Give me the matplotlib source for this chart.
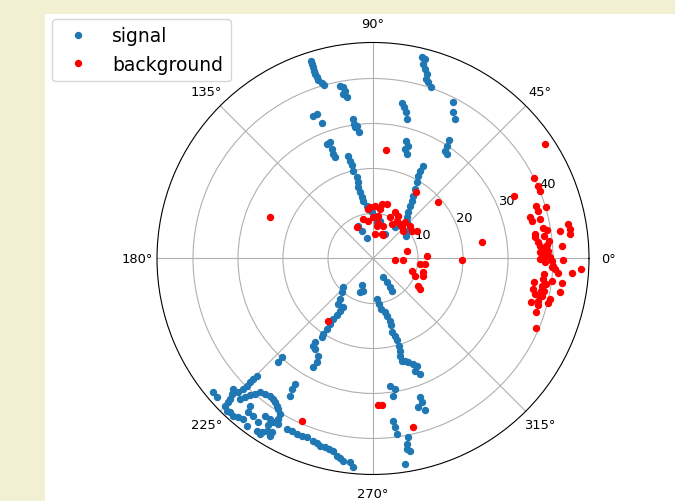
import numpy as np
import matplotlib
matplotlib.use('Agg')
import matplotlib.pyplot as plt
from matplotlib.patches import Rectangle

# signal hits (angle in degrees, radius)
sig_theta = [107.5, 107.5, 107.5, 107.4, 107.4, 107.3, 107.0, 106.3, 105.7,
             100.8, 99.8, 99.5, 100.4, 99.1,
             112.7, 111.3, 110.7,
             98.3, 98.0, 97.0, 97.8, 96.2,
             112.0, 110.3, 110.7, 110.8, 110.6,
             103.5, 103.2, 102.9, 102.6, 101.4, 100.9, 101.7, 101.1, 100.5, 99.5, 96.8, 95.4, 91.6, 87.2, 84.2,
             114.1, 112.1, 107.1, 79.5, 63.9, 54.8,
             76.4, 75.4, 75.5, 74.7, 73.8, 73.6, 72.6, 71.4,
             79.5, 78.3, 77.4, 76.2,
             62.8, 61.2, 59.6,
             74.5, 72.6, 73.7, 71.8,
             57.2, 56.8, 56.3, 54.8,
             61.5, 61.8, 61.3, 60.2, 58.9, 57.3, 56.2, 55.0, 52.6, 50.2, 47.0, 38.2, 34.6,
             298.7, 299.9, 300.6, 300.1,
             275.2, 277.9, 279.0, 282.6, 284.0, 285.3, 284.8, 284.2, 285.9, 286.5, 286.6, 286.3, 285.5, 285.7,
             287.3, 288.8, 290.9, 292.2, 290.5, 292.1,
             277.6, 279.6, 278.4,
             288.7, 288.7, 288.9, 286.9,
             277.1, 277.4, 277.7,
             281.2, 280.3, 280.0, 280.9, 278.9,
             247.4, 253.2, 249.0,
             224.1, 227.2, 230.8, 232.7, 238.7, 237.7, 237.6, 236.7, 236.7, 236.7, 236.6, 236.9, 235.3, 235.6,
             237.3, 240.6, 241.5, 241.2,
             227.3, 227.6,
             238.1, 238.1, 238.8,
             220.0, 221.6,
             225.2, 225.2, 225.2, 225.2, 225.2, 224.8, 223.0, 223.8, 224.5, 224.8, 224.8, 226.1, 227.1, 228.4,
             229.7, 231.1, 226.6, 227.3, 228.1, 228.9, 229.8, 231.4, 233.1, 234.6, 235.7, 236.8, 237.8, 239.1,
             239.5, 238.7, 237.9, 238.3, 237.4, 232.9, 231.0, 230.1, 232.7, 235.0, 235.5, 237.3, 239.8, 239.8,
             236.0, 237.2,
             240.2, 243.2, 244.9, 246.5, 248.2, 249.7, 251.9, 253.1, 254.2, 255.7, 257.0, 258.3, 259.6, 260.6,
             261.6, 263.6, 264.6]
sig_r = [46.1, 45.3, 44.6, 43.7, 43.0, 42.2, 41.5, 40.6, 40.1,
         39.1, 38.6, 37.8, 37.2, 36.3,
         34.4, 34.5, 32.2,
         31.3, 30.2, 29.7, 29.4, 28.2,
         27.4, 27.5, 26.0, 24.8, 24.0,
         23.5, 22.3, 21.2, 20.0, 18.4, 17.2, 16.2, 15.0, 13.8, 13.0, 11.8, 11.0, 10.3, 9.2, 8.1,
         8.0, 6.7, 4.8, 8.5, 6.1, 8.5,
         46.0, 45.8, 44.6, 43.7, 42.7, 41.6, 41.0, 40.2,
         35.1, 34.3, 33.3, 31.9,
         39.0, 37.1, 36.0,
         27.2, 26.3, 25.4, 24.4,
         31.2, 29.9, 28.8, 28.4,
         23.5, 22.1, 21.0, 19.5, 18.0, 16.6, 15.5, 14.3, 12.9, 11.9, 11.0, 10.0, 8.9,
         4.8, 6.1, 7.4, 8.3,
         9.0, 10.2, 11.4, 12.2, 13.1, 14.3, 15.4, 16.9, 17.8, 19.0, 20.2, 21.4, 22.4, 23.6,
         23.9, 24.4, 25.1, 25.7, 26.6, 27.7,
         28.5, 29.4, 30.8,
         32.6, 33.7, 35.7, 34.6,
         36.3, 37.8, 39.4,
         40.5, 41.9, 43.0, 43.5, 46.2,
         6.5, 7.5, 8.0,
         9.2, 10.2, 11.6, 12.7, 12.7, 13.7, 15.0, 16.1, 17.4, 18.7, 20.1, 20.9, 22.6, 23.5,
         23.9, 24.8, 26.2, 27.6,
         29.9, 31.2,
         32.8, 34.2, 35.6,
         46.3, 46.4,
         36.7, 37.7, 38.8, 39.8, 40.9, 42.2, 42.5, 43.5, 44.6, 45.3, 46.4, 46.9, 46.7, 46.7,
         46.3, 45.9, 43.0, 42.0, 40.9, 39.9, 38.9, 38.5, 38.1, 38.3, 38.7, 39.1, 39.5, 40.3,
         41.4, 42.6, 43.8, 45.0, 45.9, 46.6, 44.0, 42.6, 43.9, 44.4, 42.4, 42.4, 44.7, 45.6,
         46.2, 46.4,
         42.4, 42.5, 42.4, 42.5, 42.5, 42.4, 42.6, 42.8, 43.2, 43.3, 43.4, 43.6, 44.6, 44.9,
         45.4, 45.6, 46.6]

# background hits
bkg_theta = [83.3, 158.2, 41.0, 57.0, 8.8, 359.2, 23.8,
             93.4, 87.8, 82.0, 80.9, 75.9, 97.1, 89.6, 82.9, 83.6, 72.6, 70.4, 85.3, 117.6, 95.4, 66.3,
             64.5, 59.4, 57.9, 51.9, 47.4, 48.5, 42.5, 41.6, 35.7, 32.5, 67.7, 61.2, 104.2, 82.0,
             13.0, 356.9, 357.7, 3.0, 354.0, 353.3, 342.5, 337.7, 344.7, 329.0, 327.0, 341.1,
             234.3, 272.1, 273.4, 246.4, 283.4,
             33.7, 26.4, 23.6, 22.1, 17.8, 16.2, 16.7, 14.7, 13.3, 10.1, 8.6, 7.5, 7.4, 5.8, 8.3, 10.0,
             8.5, 7.1, 3.7, 4.2, 2.1, 359.8, 3.2, 0.9, 2.5, 0.4, 358.7, 359.3, 357.7, 356.7, 359.6,
             355.8, 357.0, 355.4, 354.8, 353.1, 350.8, 349.2, 347.4, 345.7, 344.2, 351.6, 349.2, 344.7,
             347.1, 345.8, 352.8, 352.6, 349.8, 341.7, 336.9, 5.7, 4.4, 357.3, 351.6, 349.2, 347.5,
             347.6, 13.3, 9.3]
bkg_r = [24.3, 24.7, 19.2, 17.5, 24.4, 19.7, 34.3,
         11.4, 11.7, 11.1, 12.3, 12.5, 8.5, 9.2, 9.6, 7.3, 7.6, 5.8, 5.5, 7.8, 11.0, 5.7,
         11.4, 11.0, 9.9, 9.7, 9.4, 10.7, 9.1, 11.0, 10.6, 11.5, 10.0, 8.8, 9.1, 8.0,
         7.7, 4.9, 6.7, 12.0, 11.6, 10.5, 9.0, 10.1, 11.6, 11.7, 12.5, 11.8,
         17.0, 32.6, 32.6, 39.5, 38.6,
         45.9, 40.0, 40.1, 40.1, 38.0, 38.1, 40.1, 36.1, 38.1, 38.3, 36.3, 36.2, 38.4, 39.2, 42.0, 44.1,
         44.3, 44.1, 42.0, 37.2, 37.1, 37.1, 37.9, 38.2, 39.0, 39.3, 38.2, 39.7, 40.1, 40.5, 42.3,
         44.3, 46.3, 41.2, 38.2, 38.1, 38.0, 38.0, 38.0, 37.9, 38.0, 36.2, 36.3, 36.4,
         40.4, 40.2, 40.2, 42.3, 42.3, 38.1, 39.4, 36.8, 38.8, 39.8, 38.9, 38.7, 38.5,
         36.8, 36.3, 39.2]

fig = plt.figure(figsize=(6.75, 5.02), dpi=100, facecolor='#f2f0d3')
# white page area (the screenshot shows a beige border top/left)
page = Rectangle((45 / 675, 0), 1 - 45 / 675, 1 - 15 / 502,
                 transform=fig.transFigure, facecolor='white', edgecolor='none', zorder=-10)
fig.patches.append(page)

ax = fig.add_axes([0.2326, 0.0528, 0.64, 0.8606], projection='polar')
ax.set_zorder(1)
ax.plot(np.radians(sig_theta), sig_r, 'o', color='#1f77b4', markersize=4.3, label='signal')
ax.plot(np.radians(bkg_theta), bkg_r, 'o', color='red', markersize=4.3, label='background')
ax.set_ylim(0, 48)
ax.set_rticks([10, 20, 30, 40])
ax.tick_params(labelsize=9.4)

leg = fig.legend(loc='upper left', bbox_to_anchor=(52 / 675, 1 - 20 / 502),
                 bbox_transform=fig.transFigure, borderaxespad=0, fontsize=13.5)
leg.set_zorder(5)

plt.savefig('out.png', dpi=100, facecolor=fig.get_facecolor())
